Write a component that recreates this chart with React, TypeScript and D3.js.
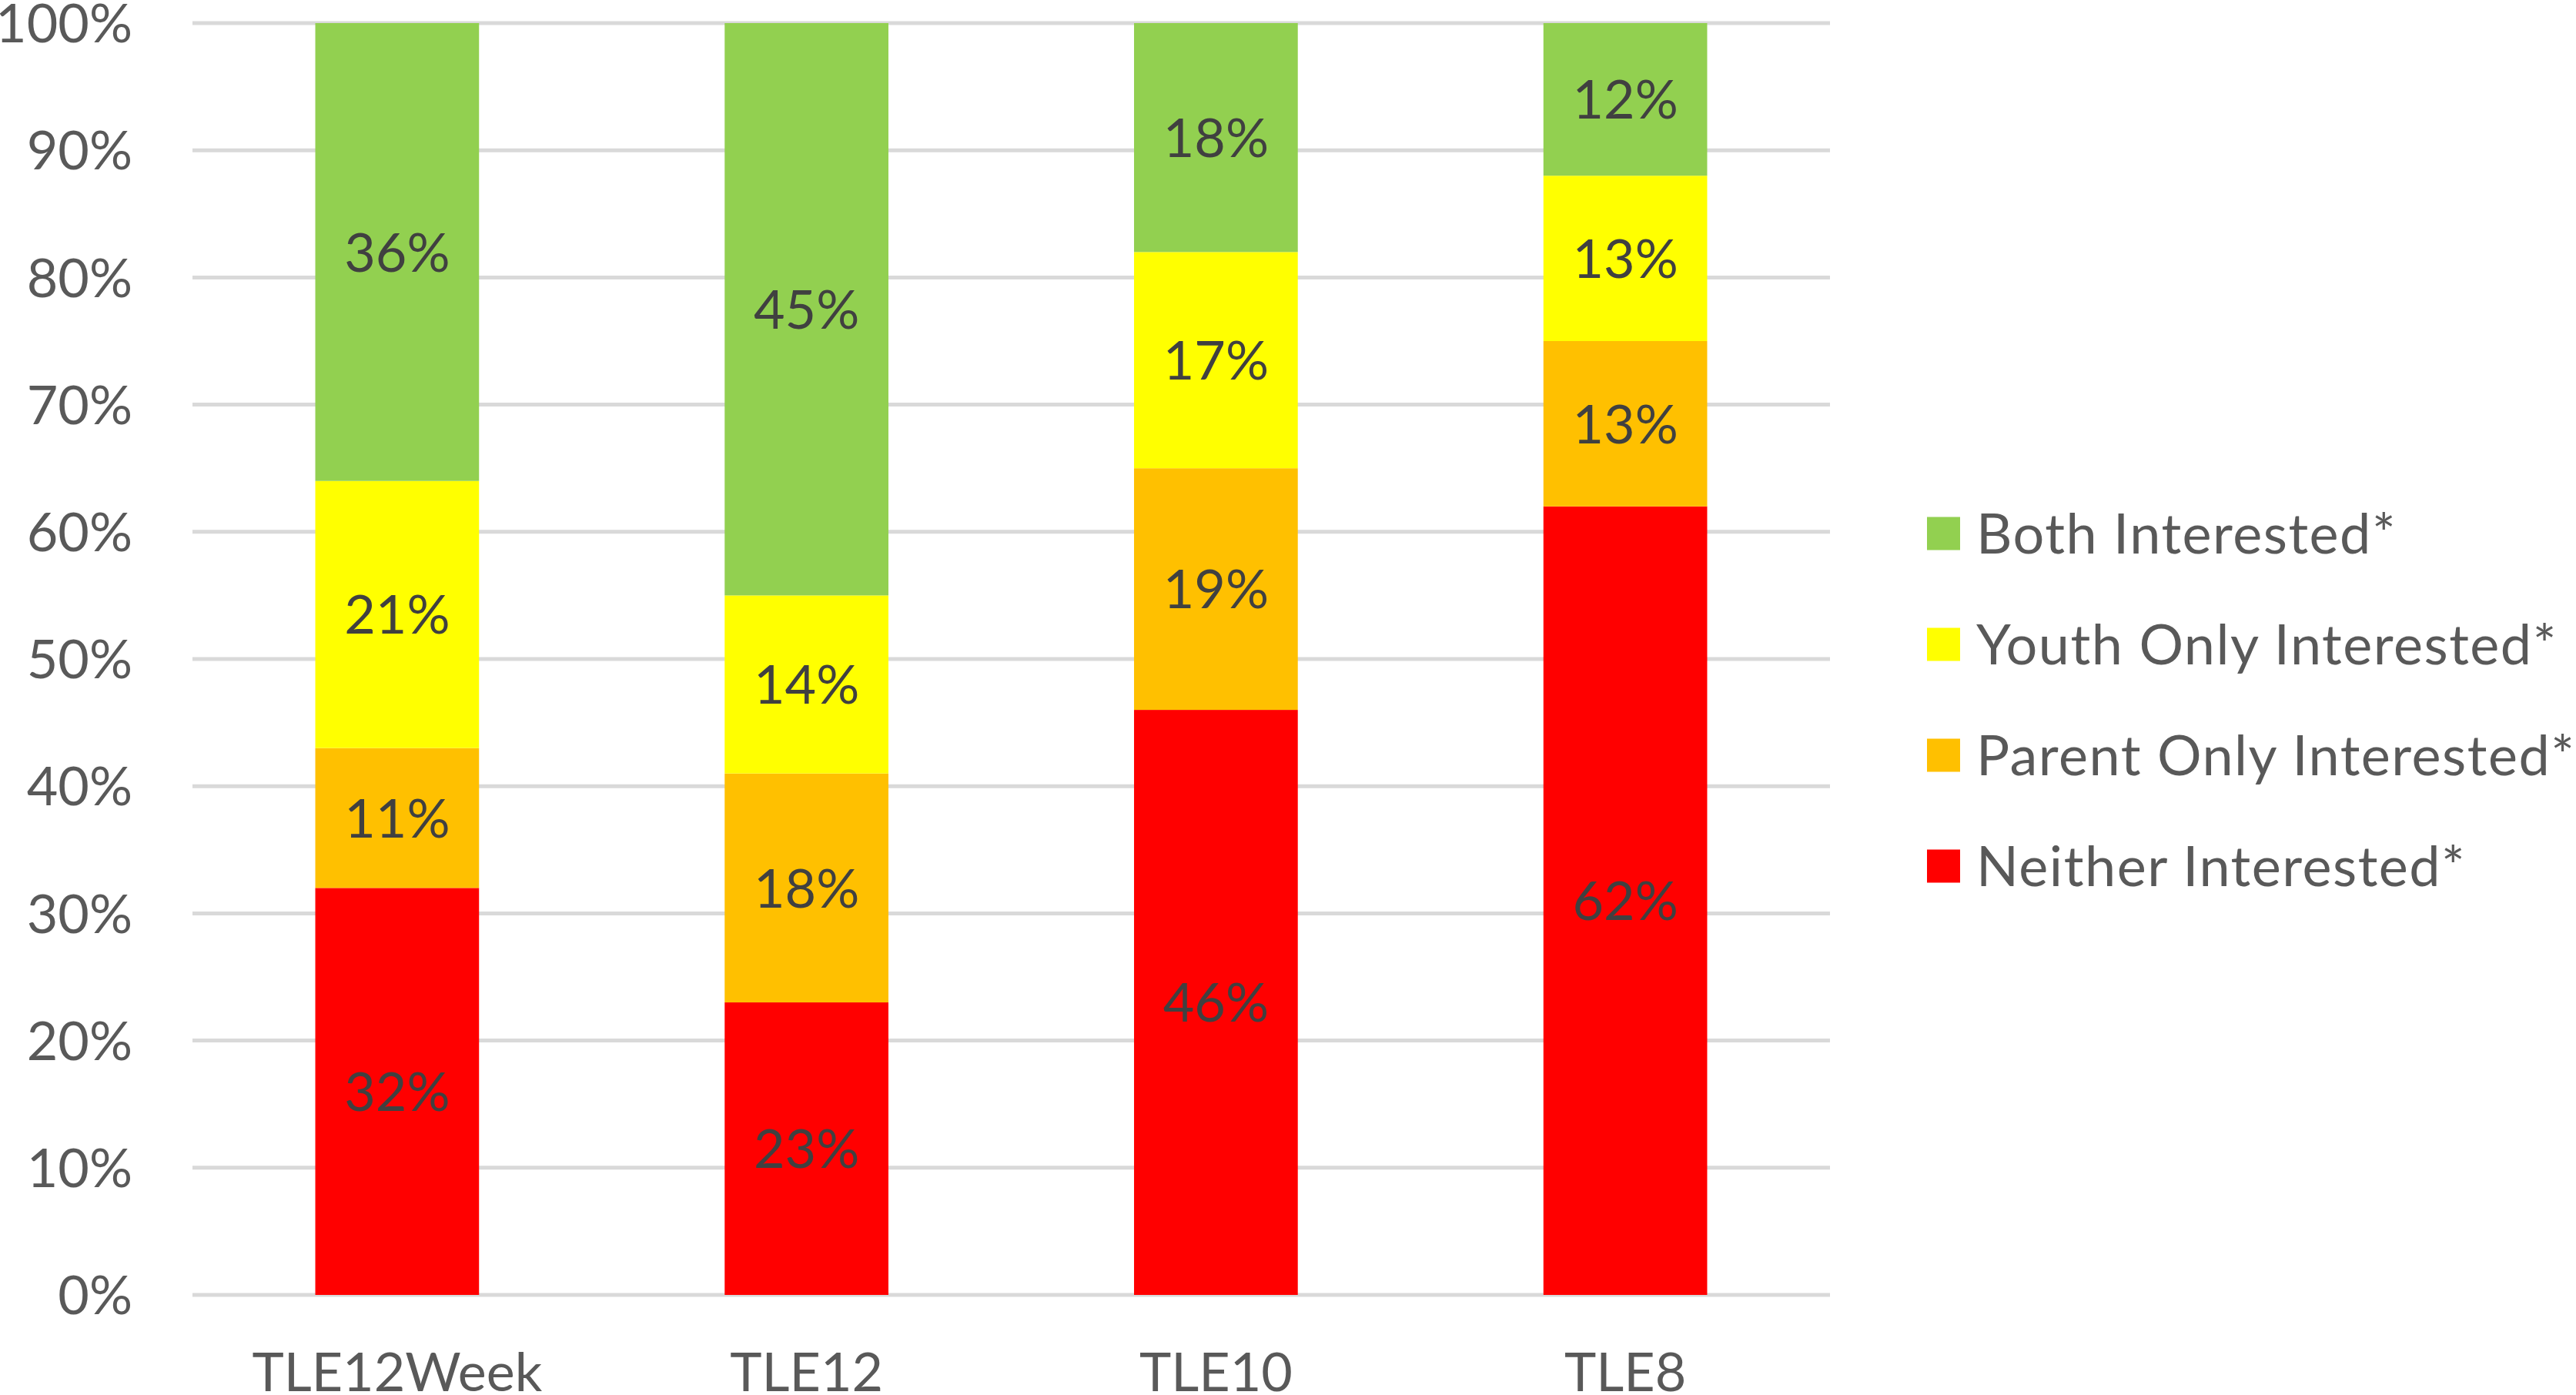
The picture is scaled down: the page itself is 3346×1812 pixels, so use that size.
import React from "react";
import * as d3 from "d3";

const categories = ["TLE12Week", "TLE12", "TLE10", "TLE8"];
const seriesNames = ["Neither Interested*", "Parent Only Interested*", "Youth Only Interested*", "Both Interested*"];
const neither = [32, 23, 46, 62];
const parentOnly = [11, 18, 19, 13];
const youthOnly = [21, 14, 17, 13];
const both = [36, 45, 18, 12];
const seriesColors = ["#FF0000", "#FFC000", "#FFFF00", "#92D050"];
const yTicks = [0, 10, 20, 30, 40, 50, 60, 70, 80, 90, 100];
const legendOrder = [3, 2, 1, 0];

const W = 3346;
const H = 1812;
const FONT = "Lato, 'Open Sans', sans-serif";

export default function App() {
  const left = 250;
  const right = 2377;
  const top = 30;
  const bottom = 1682;

  const x = d3.scaleBand<string>().domain(categories).range([left, right]).paddingInner(0.6).paddingOuter(0.3);
  const y = d3.scaleLinear().domain([0, 100]).range([bottom, top]);

  const rows = categories.map((c, i) => ({
    cat: c,
    s0: neither[i],
    s1: parentOnly[i],
    s2: youthOnly[i],
    s3: both[i],
  }));
  const stack = d3.stack<any>().keys(["s0", "s1", "s2", "s3"]);
  const stacked = stack(rows);

  const legendX = 2503;
  const legendY0 = 693;
  const legendStep = 144;
  const sq = 43;

  return (
    <svg width={W} height={H} style={{ position: "absolute", left: 0, top: 0, display: "block", background: "#fff" }}>
      <rect x={0} y={0} width={W} height={H} fill="#fff" />
      {yTicks.map((t) => (
        <g key={t}>
          <line x1={left} x2={right} y1={y(t)} y2={y(t)} stroke="#D9D9D9" strokeWidth={5} />
          <text x={172} y={y(t)} dy="0.36em" textAnchor="end" fontFamily={FONT} fontSize={70} fill="#595959">
            {t}%
          </text>
        </g>
      ))}
      {stacked.map((layer, si) => (
        <g key={si}>
          {layer.map((d, ci) => {
            const x0 = x(categories[ci])!;
            const y1 = y(d[1]);
            const y0 = y(d[0]);
            return (
              <g key={ci}>
                <rect x={x0} y={y1} width={x.bandwidth()} height={y0 - y1} fill={seriesColors[si]} />
                <text
                  x={x0 + x.bandwidth() / 2}
                  y={(y0 + y1) / 2}
                  dy="0.36em"
                  textAnchor="middle"
                  fontFamily={FONT}
                  fontSize={70}
                  fill="#404040"
                >
                  {d[1] - d[0]}%
                </text>
              </g>
            );
          })}
        </g>
      ))}
      {categories.map((c) => (
        <text key={c} x={x(c)! + x.bandwidth() / 2} y={1807} textAnchor="middle" fontFamily={FONT} fontSize={70} fill="#595959">
          {c}
        </text>
      ))}
      {legendOrder.map((si, i) => (
        <g key={si} transform={`translate(${legendX},${legendY0 + i * legendStep})`}>
          <rect x={0} y={-sq / 2} width={sq} height={sq} fill={seriesColors[si]} />
          <text x={64} y={0} dy="0.36em" fontFamily={FONT} fontSize={72} letterSpacing={1.5} fill="#595959">
            {seriesNames[si]}
          </text>
        </g>
      ))}
    </svg>
  );
}
